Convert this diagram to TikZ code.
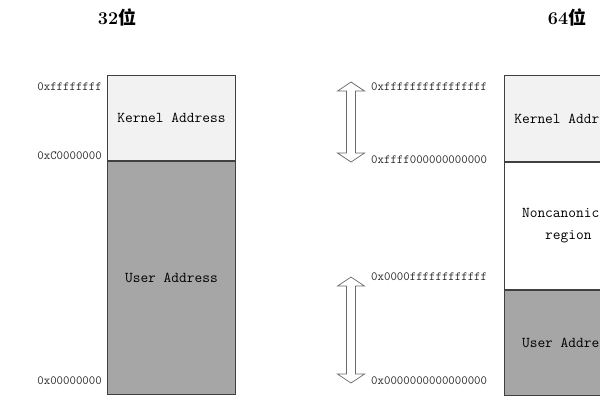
\documentclass[tikz,border=0pt]{standalone}
\usepackage{fontspec}
\newfontfamily\cjk{Noto Sans CJK SC}
\definecolor{kernelfill}{HTML}{F2F2F2}
\definecolor{userfill}{HTML}{A6A6A6}
\definecolor{edgegray}{HTML}{404040}
\definecolor{arrowgray}{HTML}{6A6A6A}

\begin{document}
\begin{tikzpicture}[x=1pt,y=-1pt,
	region/.style={draw=edgegray, line width=0.8pt, minimum width=128pt,
		anchor=north west, inner sep=0pt, align=center,
		font=\ttfamily\fontsize{15}{22}\selectfont},
	addr/.style={font=\ttfamily\fontsize{12.5}{13}\selectfont, text=black!85, inner sep=0pt},
	title/.style={font=\bfseries\fontsize{18}{20}\selectfont, inner sep=0pt},
	hollowarrow/.style={draw=arrowgray, fill=white, line width=0.7pt, line join=miter}]
	
	\useasboundingbox (0,0) rectangle (600,400);
	\clip (0,0) rectangle (600,400);
	
	% ======================================================
	% 32-bit layout
	% ======================================================
	\node[title] (t32) at (117,17) {32{\cjk 位}};
	
	\node[region, fill=kernelfill, minimum height=85pt] (kern32) at (107,75) {Kernel Address};
	\node[region, fill=userfill, minimum height=233pt] (user32) at (kern32.south west) {User Address};
	
	% Addresses
	\node[addr, anchor=east] (a32top) at (102,87) {0xffffffff};
	\node[addr, anchor=east] (a32mid) at (102,156) {0xC0000000};
	\node[addr, anchor=east] (a32low) at (102,381) {0x00000000};
	
	% ======================================================
	% 64-bit layout
	% ======================================================
	\node[title] (t64) at (567,17) {64{\cjk 位}};
	
	\node[region, fill=kernelfill, minimum height=86pt] (kern64) at (504,75) {Kernel Address};
	\node[region, fill=white, minimum height=127pt] (hole64) at (kern64.south west) {Noncanonical\\region};
	\node[region, fill=userfill, minimum height=105pt] (user64) at (hole64.south west) {User Address};
	
	% Addresses
	\node[addr, anchor=west] (a64top) at (371,87) {0xffffffffffffffff};
	\node[addr, anchor=west] (a64kern) at (371,160) {0xffff000000000000};
	\node[addr, anchor=west] (a64user) at (371,277) {0x0000ffffffffffff};
	\node[addr, anchor=west] (a64low) at (371,381) {0x0000000000000000};
	
	% Canonical ranges (hollow double arrows)
	\foreach \ya/\yb in {82/162, 277/383}{
		\draw[hollowarrow] (351,\ya) -- (364.5,{\ya+9}) -- (355.5,{\ya+9})
		-- (355.5,{\yb-9}) -- (364.5,{\yb-9}) -- (351,\yb)
		-- (337.5,{\yb-9}) -- (346.5,{\yb-9}) -- (346.5,{\ya+9})
		-- (337.5,{\ya+9}) -- cycle;
	}
	
\end{tikzpicture}
\end{document}
